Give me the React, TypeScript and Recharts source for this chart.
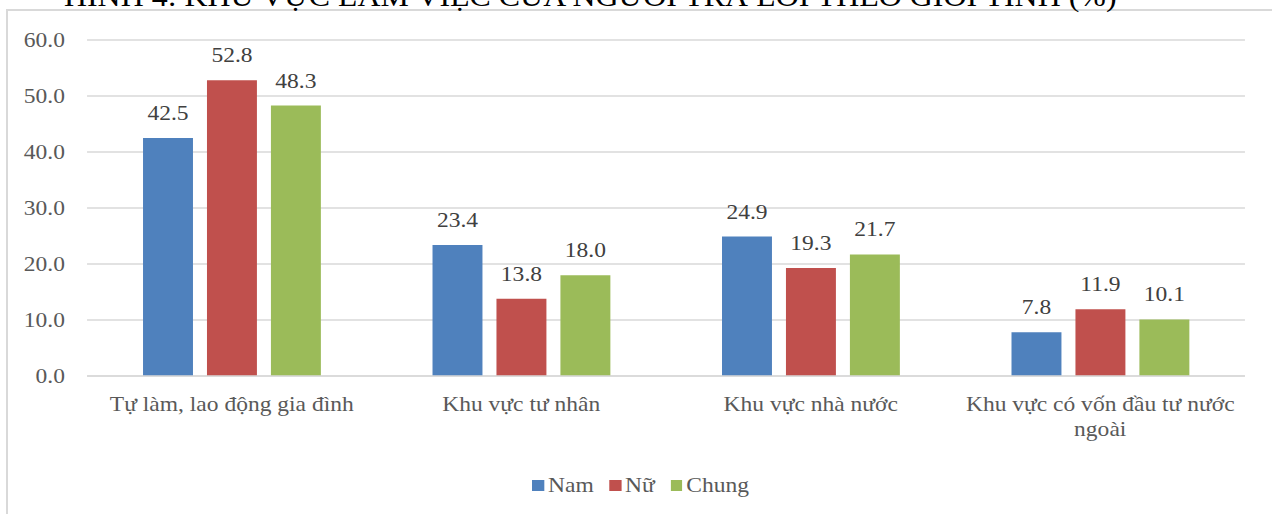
import { Bar, BarChart, CartesianGrid, LabelList, Legend, XAxis, YAxis } from "recharts";

const title = "HÌNH 4: KHU VỰC LÀM VIỆC CỦA NGƯỜI TRẢ LỜI THEO GIỚI TÍNH (%)";

const categories = [
  "Tự làm, lao động gia đình",
  "Khu vực tư nhân",
  "Khu vực nhà nước",
  "Khu vực có vốn đầu tư nước ngoài",
];
const nam = [42.5, 23.4, 24.9, 7.8];
const nu = [52.8, 13.8, 19.3, 11.9];
const chung = [48.3, 18.0, 21.7, 10.1];
const yTicks = [0, 10, 20, 30, 40, 50, 60];

const series = [
  { key: "nam", name: "Nam", color: "#4F81BD" },
  { key: "nu", name: "Nữ", color: "#C0504D" },
  { key: "chung", name: "Chung", color: "#9BBB59" },
];

const rows = categories.map((category, i) => ({
  category,
  nam: nam[i],
  nu: nu[i],
  chung: chung[i],
}));

const font = '"Liberation Serif", "Times New Roman", serif';
const textGrey = "#595959";
const labelGrey = "#404040";
const gridGrey = "#d9d9d9";
const serifStyle = { fontFamily: font, fontSize: 21 };

// the figure is drawn a bit narrow and stretched sideways, like the exported image
const STRETCH = 1.12;
const W = 1136;
const H = 514;

// simple word wrap by character count for the category names
function wrapWords(label: string, maxChars: number) {
  const lines: string[] = [];
  let line = "";
  for (const word of label.split(" ")) {
    const next = line ? `${line} ${word}` : word;
    if (next.length > maxChars && line) {
      lines.push(line);
      line = word;
    } else {
      line = next;
    }
  }
  if (line) lines.push(line);
  return lines;
}

function CategoryTick({ x, y, payload }: any) {
  const lines = wrapWords(String(payload.value), 26);
  return (
    <text x={x} y={y} textAnchor="middle" fill={textGrey} style={serifStyle}>
      {lines.map((l, i) => (
        <tspan key={i} x={x} dy={i === 0 ? 15 : 25}>
          {l}
        </tspan>
      ))}
    </text>
  );
}

function ValueTick({ x, y, payload }: any) {
  return (
    <text x={x} y={y} dy={7} textAnchor="end" fill={textGrey} style={serifStyle}>
      {Number(payload.value).toFixed(1)}
    </text>
  );
}

function BarValue({ x, y, width, value }: any) {
  return (
    <text x={x + width / 2} y={y - 18} textAnchor="middle" fill={labelGrey} style={serifStyle}>
      {Number(value).toFixed(1)}
    </text>
  );
}

function LegendRow() {
  return (
    <div
      style={{
        display: "flex",
        justifyContent: "center",
        alignItems: "center",
        height: 26,
        fontFamily: font,
        fontSize: 21,
        color: textGrey,
      }}
    >
      {series.map((s, i) => (
        <span
          key={s.key}
          style={{ display: "inline-flex", alignItems: "center", marginLeft: i ? 14 : 0 }}
        >
          <span style={{ width: 10.5, height: 11, background: s.color, marginRight: 3.5 }} />
          {s.name}
        </span>
      ))}
    </div>
  );
}

export default function App() {
  return (
    <div
      style={{
        position: "absolute",
        left: 0,
        top: 0,
        width: 1272,
        height: 514,
        overflow: "hidden",
        background: "#fff",
        fontFamily: font,
      }}
    >
      <div
        style={{
          position: "absolute",
          left: 6,
          top: 9,
          width: 1300,
          height: 600,
          border: `2px solid ${gridGrey}`,
          boxSizing: "border-box",
        }}
      />
      <div
        style={{
          position: "absolute",
          left: 0,
          top: 0,
          width: W,
          height: H,
          transform: `scaleX(${STRETCH})`,
          transformOrigin: "0 0",
        }}
      >
        <BarChart
          width={W}
          height={H}
          data={rows}
          margin={{ top: 40, right: 24.4, left: 0, bottom: 78 }}
          barSize={44.6}
          barGap={12.5}
        >
          <CartesianGrid vertical={false} stroke={gridGrey} strokeWidth={1.5} />
          <XAxis
            dataKey="category"
            interval={0}
            height={60}
            tickLine={false}
            tickMargin={14}
            axisLine={{ stroke: gridGrey, strokeWidth: 1.5 }}
            tick={<CategoryTick />}
          />
          <YAxis
            domain={[0, 60]}
            ticks={yTicks}
            width={77.7}
            axisLine={false}
            tickLine={false}
            tickMargin={13.7}
            tick={<ValueTick />}
          />
          <Legend
            layout="horizontal"
            verticalAlign="middle"
            align="center"
            content={<LegendRow />}
            wrapperStyle={{ top: 472, left: 4, width: W }}
          />
          {series.map((s) => (
            <Bar key={s.key} dataKey={s.key} name={s.name} fill={s.color} isAnimationActive={false}>
              <LabelList dataKey={s.key} content={<BarValue />} />
            </Bar>
          ))}
        </BarChart>
        <svg
          width={W}
          height={20}
          style={{ position: "absolute", left: 0, top: 0, pointerEvents: "none" }}
        >
          <text x={527} y={6} textAnchor="middle" fontSize={28.5} fontFamily={font} fill="#000">
            {title}
          </text>
        </svg>
      </div>
    </div>
  );
}
